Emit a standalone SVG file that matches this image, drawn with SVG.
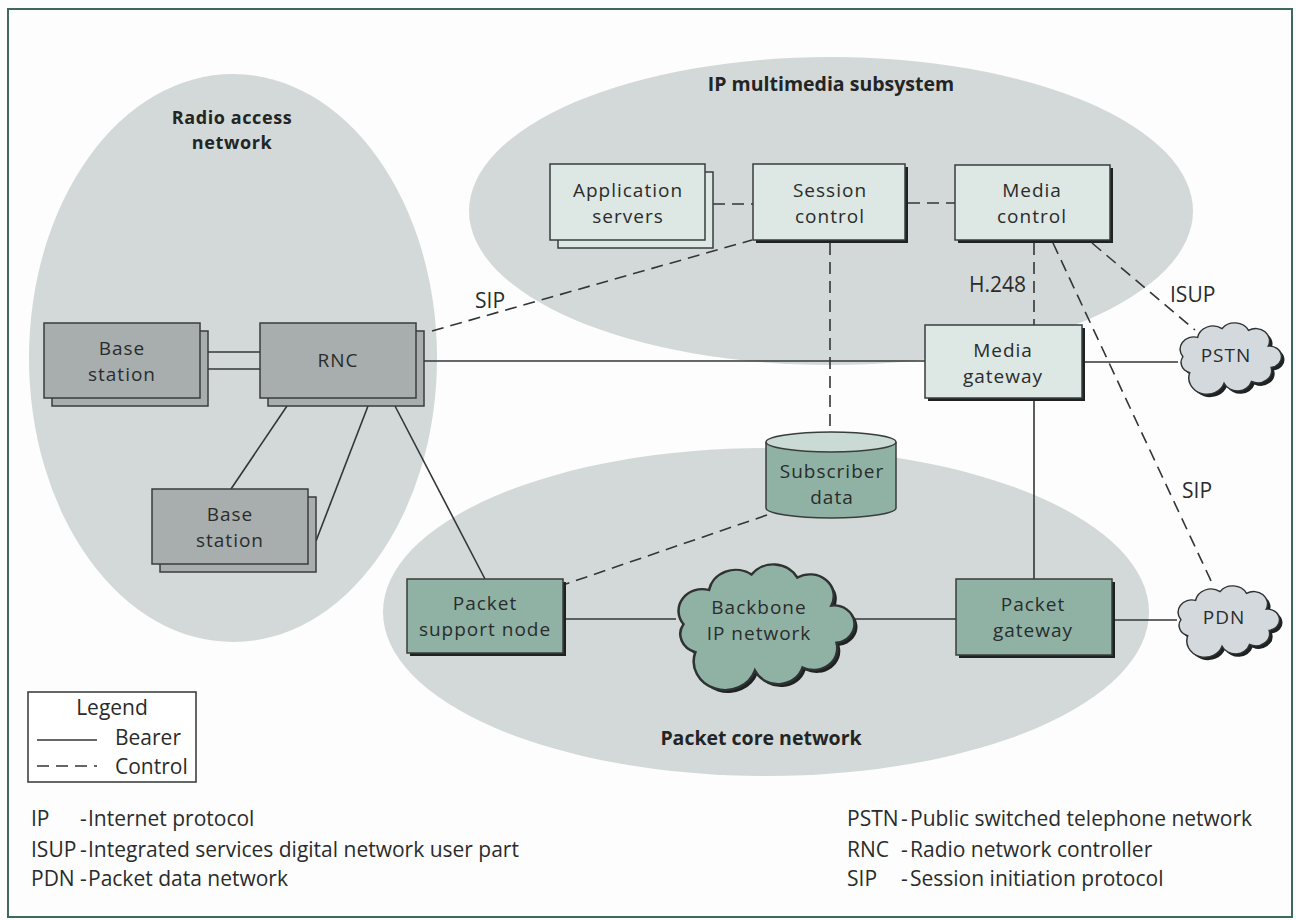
<svg xmlns="http://www.w3.org/2000/svg" width="1296" height="920" viewBox="0 0 1296 920">
  <defs>
    <style>
      .t { font-family: "Open Sans", "Liberation Sans", sans-serif; font-size: 19px; letter-spacing: 1px; fill: #2a2c2c; text-anchor: middle; }
      .b { font-family: "Open Sans", "Liberation Sans", sans-serif; font-size: 19.5px; font-weight: bold; fill: #232525; text-anchor: middle; }
      .b2 { font-family: "Open Sans", "Liberation Sans", sans-serif; font-size: 18px; letter-spacing: 0.6px; font-weight: bold; fill: #232525; text-anchor: middle; }
      .s { font-family: "Open Sans", "Liberation Sans", sans-serif; font-size: 21px; fill: #2a2c2c; }
      .region { fill: #d3d9d8; stroke: none; }
      .light { fill: #dde7e3; stroke: #3a3d3d; stroke-width: 1.5; }
      .gray { fill: #a8aeae; stroke: #3a3d3d; stroke-width: 1.5; }
      .teal { fill: #8fb2a5; stroke: #3a3d3d; stroke-width: 1.5; }
      .shadow { fill: #1f2222; stroke: none; }
      .cloudg { fill: #d4d9de; stroke: #2f3232; stroke-width: 1.5; vector-effect: non-scaling-stroke; }
      .cloudt { fill: #8fb2a5; stroke: #2f3232; stroke-width: 1.5; vector-effect: non-scaling-stroke; }
      .solid { stroke: #333636; stroke-width: 1.6; fill: none; }
      .dash { stroke: #333636; stroke-width: 1.6; fill: none; stroke-dasharray: 12 7; }
    </style>
    <path id="cloud" d="M -38,20 A 12 12 0 0 1 -45,2 A 14 14 0 0 1 -30,-20 A 16 16 0 0 1 -5,-30 A 16 16 0 0 1 22,-28 A 14 14 0 0 1 42,-10 A 12 12 0 0 1 45,14 A 14 14 0 0 1 25,30 A 15 15 0 0 1 -3,32 A 18.5 18.5 0 0 1 -38,20 Z"/>
  </defs>

  <rect x="0" y="0" width="1296" height="920" fill="#fcfdfc"/>
  <rect x="8" y="9" width="1284" height="908" fill="none" stroke="#3d6a5d" stroke-width="2"/>

  <!-- regions -->
  <g id="regions">
    <ellipse class="region" cx="233" cy="358" rx="204" ry="284"/>
    <ellipse class="region" cx="831" cy="211" rx="362" ry="154"/>
    <ellipse class="region" cx="766" cy="612" rx="383" ry="164"/>
    <text class="b2" x="232" y="124">Radio access<tspan x="232" dy="25">network</tspan></text>
    <text class="b" x="831" y="91">IP multimedia subsystem</text>
    <text class="b" x="761" y="745">Packet core network</text>
  </g>

  <!-- connectors -->
  <g id="connectors">
    <line class="solid" x1="208" y1="352" x2="260" y2="352"/>
    <line class="solid" x1="208" y1="369" x2="260" y2="369"/>
    <line class="solid" x1="424" y1="361" x2="925" y2="361"/>
    <line class="solid" x1="1085" y1="362" x2="1178" y2="362"/>
    <line class="solid" x1="1034" y1="401" x2="1034" y2="579"/>
    <line class="solid" x1="287" y1="406" x2="231" y2="489"/>
    <line class="solid" x1="368" y1="406" x2="316" y2="541"/>
    <line class="solid" x1="395" y1="406" x2="485" y2="579"/>
    <line class="solid" x1="566" y1="619" x2="676" y2="619"/>
    <line class="solid" x1="845" y1="619" x2="956" y2="619"/>
    <line class="solid" x1="1115" y1="620" x2="1177" y2="620"/>

    <line class="dash" x1="713" y1="204" x2="753" y2="204"/>
    <line class="dash" x1="908" y1="203" x2="955" y2="203"/>
    <line class="dash" x1="432" y1="331" x2="752" y2="240"/>
    <line class="dash" x1="830" y1="243" x2="830" y2="432"/>
    <line class="dash" x1="767" y1="515" x2="566" y2="584"/>
    <line class="dash" x1="1034" y1="243" x2="1034" y2="325"/>
    <line class="dash" x1="1092" y1="243" x2="1195" y2="330"/>
    <line class="dash" x1="1053" y1="243" x2="1212" y2="583"/>

    <text class="s" x="475" y="308">SIP</text>
    <text class="s" x="1026" y="292" text-anchor="end">H.248</text>
    <text class="s" x="1170" y="302">ISUP</text>
    <text class="s" x="1182" y="498">SIP</text>
  </g>

  <!-- nodes -->
  <g id="app-servers">
    <rect class="light" x="558" y="172" width="155" height="76"/>
    <rect class="light" x="550" y="164" width="155" height="76"/>
    <text class="t" x="628" y="197">Application<tspan x="628" dy="26">servers</tspan></text>
  </g>
  <g id="session-control">
    <rect class="shadow" x="756" y="167" width="152" height="76"/>
    <rect class="light" x="753" y="164" width="152" height="76"/>
    <text class="t" x="830" y="197">Session<tspan x="830" dy="26">control</tspan></text>
  </g>
  <g id="media-control">
    <rect class="shadow" x="958" y="168" width="155" height="75"/>
    <rect class="light" x="955" y="165" width="155" height="75"/>
    <text class="t" x="1032" y="197">Media<tspan x="1032" dy="26">control</tspan></text>
  </g>
  <g id="media-gateway">
    <rect class="shadow" x="928" y="328" width="157" height="73"/>
    <rect class="light" x="925" y="325" width="157" height="73"/>
    <text class="t" x="1003" y="357">Media<tspan x="1003" dy="26">gateway</tspan></text>
  </g>
  <g id="pstn">
    <use href="#cloud" class="shadow" transform="translate(1230,358) scale(0.98,0.88)"/>
    <use href="#cloud" class="cloudg" transform="translate(1227,355) scale(0.98,0.88)"/>
    <text class="t" x="1226" y="362">PSTN</text>
  </g>
  <g id="rnc">
    <rect class="gray" x="268" y="331" width="156" height="75"/>
    <rect class="gray" x="260" y="323" width="156" height="75"/>
    <text class="t" x="338" y="367">RNC</text>
  </g>
  <g id="base-station-1">
    <rect class="gray" x="52" y="331" width="156" height="75"/>
    <rect class="gray" x="44" y="323" width="156" height="75"/>
    <text class="t" x="122" y="355">Base<tspan x="122" dy="26">station</tspan></text>
  </g>
  <g id="base-station-2">
    <rect class="gray" x="160" y="497" width="156" height="75"/>
    <rect class="gray" x="152" y="489" width="156" height="75"/>
    <text class="t" x="230" y="521">Base<tspan x="230" dy="26">station</tspan></text>
  </g>
  <g id="subscriber-data">
    <path class="teal" d="M 766,442 L 766,508 A 65 10 0 0 0 896,508 L 896,442"/>
    <ellipse cx="831" cy="442" rx="65" ry="10" fill="#c9dbd4" stroke="#3a3d3d" stroke-width="1.5"/>
    <text class="t" x="832" y="478">Subscriber<tspan x="832" dy="26">data</tspan></text>
  </g>
  <g id="packet-support-node">
    <rect class="shadow" x="410" y="582" width="156" height="74"/>
    <rect class="teal" x="407" y="579" width="156" height="74"/>
    <text class="t" x="485" y="610">Packet<tspan x="485" dy="26">support node</tspan></text>
  </g>
  <g id="backbone">
    <use href="#cloud" class="shadow" transform="translate(763,624) scale(1.7,1.55)"/>
    <use href="#cloud" class="cloudt" transform="translate(760,621) scale(1.7,1.55)"/>
    <text class="t" x="759" y="614">Backbone<tspan x="759" dy="26">IP network</tspan></text>
  </g>
  <g id="packet-gateway">
    <rect class="shadow" x="959" y="582" width="156" height="76"/>
    <rect class="teal" x="956" y="579" width="156" height="76"/>
    <text class="t" x="1033" y="611">Packet<tspan x="1033" dy="26">gateway</tspan></text>
  </g>
  <g id="pdn">
    <use href="#cloud" class="shadow" transform="translate(1228,621) scale(0.98,0.88)"/>
    <use href="#cloud" class="cloudg" transform="translate(1225,618) scale(0.98,0.88)"/>
    <text class="t" x="1224" y="624">PDN</text>
  </g>

  <!-- legend -->
  <g id="legend">
    <rect x="28" y="692" width="168" height="90" fill="#ffffff" stroke="#333636" stroke-width="1.5"/>
    <text class="s" x="112" y="715" text-anchor="middle">Legend</text>
    <line class="solid" x1="37" y1="740" x2="97" y2="740"/>
    <text class="s" x="115" y="745">Bearer</text>
    <line class="dash" x1="37" y1="766" x2="97" y2="766" stroke-dasharray="13 9"/>
    <text class="s" x="115" y="774">Control</text>
  </g>

  <g id="abbreviations">
    <text class="s" x="31" y="826">IP</text>
    <text class="s" x="80" y="826">-</text>
    <text class="s" x="88" y="826">Internet protocol</text>
    <text class="s" x="31" y="857">ISUP</text>
    <text class="s" x="80" y="857">-</text>
    <text class="s" x="88" y="857">Integrated services digital network user part</text>
    <text class="s" x="31" y="886">PDN</text>
    <text class="s" x="80" y="886">-</text>
    <text class="s" x="88" y="886">Packet data network</text>
    <text class="s" x="847" y="826">PSTN</text>
    <text class="s" x="901" y="826">-</text>
    <text class="s" x="910" y="826">Public switched telephone network</text>
    <text class="s" x="847" y="857">RNC</text>
    <text class="s" x="901" y="857">-</text>
    <text class="s" x="910" y="857">Radio network controller</text>
    <text class="s" x="847" y="886">SIP</text>
    <text class="s" x="901" y="886">-</text>
    <text class="s" x="910" y="886">Session initiation protocol</text>
  </g>
</svg>
